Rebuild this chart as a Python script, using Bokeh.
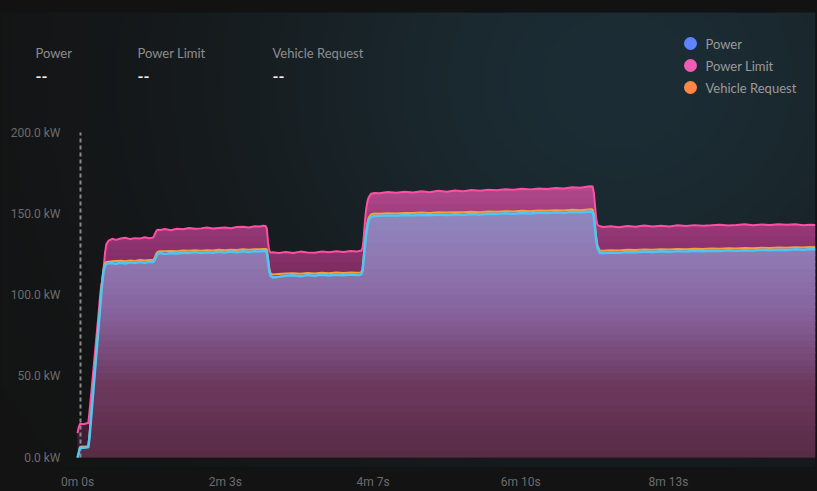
import numpy as np
from bokeh.plotting import figure
from bokeh.models import Range1d, FixedTicker, Label
from bokeh.embed import file_html
from bokeh.resources import INLINE

# ---------------- data (seconds, kW) ----------------
t = [0, 1, 2, 3, 5, 7, 9,
     10, 12, 14, 16, 18, 19, 20, 21, 22, 23, 24, 26,
     29, 32, 36, 40, 44, 48, 52, 56, 60, 63,
     64, 65, 66, 67, 69,
     73, 78, 83, 88, 93, 98, 103, 108, 113, 118, 123, 128, 133, 138, 143, 148, 152, 155,
     157, 158, 159, 160, 161, 163,
     168, 174, 180, 186, 192, 198, 204, 210, 216, 222, 228, 233, 236,
     237, 238, 239, 240, 241, 242, 243, 245, 248,
     252, 259, 266, 273, 280, 287, 294, 301, 308, 315, 322, 329, 336, 343, 350, 357, 364,
     371, 378, 385, 392, 399, 406, 413, 420, 426, 429,
     430, 431, 432, 433, 434, 436, 439,
     445, 452, 459, 466, 473, 480, 487, 494, 501, 508, 515, 522, 529, 536, 543, 550, 557,
     564, 571, 578, 585, 592, 599, 606, 612, 616]

power_limit = [15.0, 18.5, 20.6, 20.8, 20.5, 20.9, 21.2,
               28, 44, 60, 76, 92, 101, 107, 109, 118, 126, 131, 133.5,
               134.6, 133.9, 134.8, 135.2, 134.4, 135.0, 134.7, 135.5, 134.9, 135.3,
               136.5, 138.2, 139.6, 140.2, 140.0,
               140.6, 139.9, 140.8, 140.4, 141.2, 140.7, 141.0, 141.5, 140.9, 141.3, 141.6, 141.1,
               141.8, 142.0, 141.6, 142.3, 142.1, 142.6,
               142.5, 141.0, 133.0, 127.5, 126.2, 126.3,
               125.8, 126.4, 125.9, 126.7, 126.2, 126.0, 126.8, 126.3, 126.9, 126.5, 127.1, 126.7, 127.2,
               127.3, 129.0, 136.0, 146.0, 153.0, 157.5, 160.0, 162.3, 162.8,
               162.6, 163.4, 162.9, 163.6, 163.1, 163.8, 163.3, 164.1, 163.6, 164.3, 163.9, 164.6,
               164.2, 164.8, 164.4, 165.1, 164.7, 165.4, 165.0, 165.6, 165.3, 165.9, 165.5, 166.3,
               166.0, 166.7, 166.9,
               166.8, 163.0, 155.0, 147.0, 143.2, 142.3, 141.8,
               142.3, 141.7, 142.5, 142.0, 142.8, 142.2, 142.6, 142.1, 142.9, 142.4, 143.0, 142.6,
               142.9, 143.3, 142.8, 143.1, 143.5, 142.9, 143.4, 143.1, 143.6, 143.2, 143.5, 142.9,
               143.3, 143.1]

vehicle_request = [0, 2.8, 6.4, 6.7, 6.6, 6.7, 6.8,
                   14, 32, 50, 68, 86, 95, 104, 112, 117, 119.5, 120.3, 120.5,
                   120.7, 120.9, 121.1, 120.8, 121.3, 121.0, 121.5, 121.2, 121.6, 121.5,
                   122.2, 124.0, 125.7, 126.7, 127.0,
                   126.9, 127.1, 127.0, 127.4, 127.2, 127.5, 127.3, 127.6, 127.4, 127.8, 127.6, 127.9,
                   127.7, 128.1, 127.9, 128.2, 128.1, 128.3,
                   128.3, 128.0, 123.0, 117.0, 113.5, 112.6,
                   112.9, 113.2, 113.4, 113.1, 113.6, 113.3, 113.7, 113.4, 113.8, 113.6, 113.9, 113.7, 113.9,
                   114.0, 116.5, 124.5, 132.5, 139.0, 144.0, 147.5, 149.5, 150.1,
                   150.0, 150.3, 150.2, 150.5, 150.4, 150.7, 150.5, 150.9, 150.7, 151.0, 150.9, 151.2,
                   151.0, 151.4, 151.2, 151.6, 151.4, 151.8, 151.6, 152.0, 151.8, 152.2, 152.0, 152.4,
                   152.2, 152.6, 152.7,
                   152.6, 149.5, 142.5, 135.5, 130.5, 127.3, 127.2,
                   127.6, 127.4, 127.8, 127.7, 128.0, 127.9, 128.2, 128.0, 128.3, 128.2, 128.5, 128.3,
                   128.6, 128.5, 128.8, 128.6, 128.9, 128.8, 129.1, 128.9, 129.2, 129.1, 129.4, 129.2,
                   129.5, 129.4]

power = [0, 2.5, 5.9, 6.2, 6.0, 6.1, 6.3,
         12, 30, 48, 66, 84, 93, 102, 110, 115.5, 118, 119, 119.5,
         119.6, 119.2, 119.9, 119.4, 120.1, 119.7, 120.3, 119.8, 120.4, 120.2,
         121.0, 122.5, 124.2, 125.3, 125.8,
         125.3, 125.9, 125.5, 126.2, 125.8, 126.4, 125.9, 126.3, 126.0, 126.6, 126.2, 126.7,
         126.3, 126.9, 126.5, 127.0, 126.8, 127.1,
         127.0, 126.5, 121.0, 115.0, 112.0, 110.8,
         111.3, 111.8, 112.1, 111.6, 112.3, 111.9, 112.4, 112.0, 112.5, 112.2, 112.6, 112.3, 112.5,
         112.8, 115.0, 123.0, 131.0, 137.5, 142.5, 146.0, 148.0, 148.6,
         148.7, 149.0, 148.8, 149.2, 149.0, 149.4, 149.1, 149.5, 149.3, 149.7, 149.4, 149.9,
         149.6, 150.0, 149.8, 150.3, 150.0, 150.5, 150.2, 150.7, 150.4, 150.9, 150.6, 151.1,
         150.9, 151.3, 151.4,
         151.2, 148.0, 141.0, 134.0, 129.0, 125.9, 125.8,
         126.2, 126.0, 126.5, 126.3, 126.7, 126.4, 126.9, 126.6, 127.0, 126.8, 127.2, 126.9,
         127.3, 127.1, 127.5, 127.2, 127.6, 127.4, 127.8, 127.5, 127.9, 127.7, 128.1, 127.9,
         128.3, 128.2]

marker_time = [2.5]          # hover marker (dashed line)
marker_span = [0, 200]

x_ticks = [0, 123.333, 246.667, 370.0, 493.333]
x_tick_labels = ["0m 0s", "2m 3s", "4m 7s", "6m 10s", "8m 13s"]
y_ticks = [0, 50, 100, 150, 200]
y_tick_labels = ["0.0 kW", "50.0 kW", "100.0 kW", "150.0 kW", "200.0 kW"]

series_names = ["Power", "Power Limit", "Vehicle Request"]
legend_colors = ["#5d83ff", "#ef5cb4", "#ff8746"]

# ---------------- layout (page pixels) ----------------
W, H = 817, 491
ORIGIN_X, ORIGIN_Y = 77, 457      # page pixel of (0 s, 0 kW)
RIGHT_EDGE = 815
FRAME_BOTTOM = 467
PX_PER_S = 147.75 / 123.333
PX_PER_KW = 1.625
X_START = -ORIGIN_X / PX_PER_S
X_END = (RIGHT_EDGE - ORIGIN_X) / PX_PER_S
Y_START = -(FRAME_BOTTOM - ORIGIN_Y) / PX_PER_KW
Y_TOP = ORIGIN_Y / PX_PER_KW

tt = np.array(t, dtype=float)
L = np.array(power_limit, dtype=float)
V = np.array(vehicle_request, dtype=float)
P = np.array(power, dtype=float)

p = figure(width=W, height=H, x_range=Range1d(X_START, X_END), y_range=Range1d(Y_START, Y_TOP),
           output_backend="svg", toolbar_location=None, title=None,
           min_border_left=0, min_border_right=W - RIGHT_EDGE, min_border_top=0,
           min_border_bottom=H - FRAME_BOTTOM,
           background_fill_color="#131313", border_fill_color="#131313",
           outline_line_color=None)

try:
    from bokeh.models import GlobalInlineStyleSheet
    p.stylesheets = [GlobalInlineStyleSheet(css="html, body { background-color: #131313; }")]
except Exception:
    pass

def sx(px):
    return (px - ORIGIN_X) / PX_PER_S

def sy(py):
    return (ORIGIN_Y - py) / PX_PER_KW

# ---------------- background glow ----------------
GW, GH = 272, 156
gx = (np.arange(GW) + 0.5) * RIGHT_EDGE / GW
gy = FRAME_BOTTOM - (np.arange(GH) + 0.5) * FRAME_BOTTOM / GH
GX, GY = np.meshgrid(gx, gy)
d2 = ((GX - 620) / 540) ** 2 + ((GY - 80) / 480) ** 2
f = np.exp(-1.9 * d2)
base = np.array([0x13, 0x13, 0x13], dtype=float)
glow = np.array([0x1c, 0x2d, 0x35], dtype=float)
rgb = base[None, None, :] + (glow - base)[None, None, :] * f[..., None]
rgb[GY < 13] = [0x12, 0x12, 0x12]
img = np.empty((GH, GW), dtype=np.uint32)
view = img.view(dtype=np.uint8).reshape((GH, GW, 4))
view[..., 0] = rgb[..., 0].astype(np.uint8)
view[..., 1] = rgb[..., 1].astype(np.uint8)
view[..., 2] = rgb[..., 2].astype(np.uint8)
view[..., 3] = 255
p.image_rgba(image=[img], x=X_START, y=Y_START, dw=X_END - X_START, dh=Y_TOP - Y_START)

# ---------------- gradient area fills ----------------
def hex2rgb(h):
    h = h.lstrip("#")
    return np.array([int(h[i:i + 2], 16) for i in (0, 2, 4)], dtype=float)

def grad(stops, v):
    vals = [s[0] for s in stops]
    cols = [hex2rgb(s[1]) for s in stops]
    c = cols[-1]
    if v <= vals[0]:
        c = cols[0]
    else:
        for i in range(len(vals) - 1):
            if vals[i] <= v <= vals[i + 1]:
                k = (v - vals[i]) / (vals[i + 1] - vals[i])
                c = cols[i] + (cols[i + 1] - cols[i]) * k
                break
    return "#%02x%02x%02x" % tuple(int(round(x)) for x in c)

limit_stops = [(0, "#3c1a32"), (100, "#6f2755"), (125, "#87306a"), (145, "#993a78"), (168, "#b44a8f")]
power_stops = [(0, "#582b45"), (45, "#6c395e"), (90, "#87639d"), (120, "#8f77b0"), (152, "#8e88c0")]

STEP = 4.0
for a in np.arange(0, 172, STEP):
    b = a + STEP
    if L.max() > a:
        p.varea(x=tt, y1=np.minimum(L, a), y2=np.minimum(L, b + 0.8),
                fill_color=grad(limit_stops, a + STEP / 2), fill_alpha=1.0)
for a in np.arange(0, 172, STEP):
    b = a + STEP
    if P.max() > a:
        p.varea(x=tt, y1=np.minimum(P, a), y2=np.minimum(P, b + 0.8),
                fill_color=grad(power_stops, a + STEP / 2), fill_alpha=1.0)

# ---------------- hover marker ----------------
p.line(x=[marker_time[0], marker_time[0]], y=marker_span, line_color="#8a8a8a",
       line_width=2, line_dash="4 3")

# ---------------- lines ----------------
p.line(tt, L, line_color="#ff4fa3", line_width=2)
p.line(tt, V, line_color="#f5a038", line_width=2)
p.line(tt, P, line_color="#4cc6f5", line_width=2.5)

# ---------------- axes ----------------
p.xaxis.ticker = FixedTicker(ticks=x_ticks)
p.xaxis.major_label_overrides = {k: v for k, v in zip(x_ticks, x_tick_labels)}
p.yaxis.ticker = FixedTicker(ticks=y_ticks)
p.yaxis.major_label_overrides = {k: v for k, v in zip(y_ticks, y_tick_labels)}
p.yaxis.fixed_location = 0
for ax in (p.xaxis, p.yaxis):
    ax.axis_line_color = None
    ax.major_tick_line_color = None
    ax.minor_tick_line_color = None
    ax.major_tick_out = 0
    ax.major_tick_in = 0
    ax.major_label_text_font = "Roboto"
    ax.major_label_text_font_size = "12px"
    ax.major_label_text_color = "#6c6c6c"
p.xaxis.major_label_standoff = 7
p.yaxis.major_label_standoff = 17

p.xgrid.ticker = FixedTicker(ticks=x_ticks)
p.xgrid.grid_line_color = "#ffffff"
p.xgrid.grid_line_alpha = 0.035
p.ygrid.grid_line_color = None

# ---------------- header values ----------------
header_x = [35, 137, 272]
for name, hx in zip(series_names, header_x):
    p.add_layout(Label(x=sx(hx), y=sy(52), text=name, text_font="Lato",
                       text_font_size="13px", text_color="#8e8e8e", text_baseline="middle"))
    p.add_layout(Label(x=sx(hx), y=sy(76), text="--", text_font="Lato",
                       text_font_size="16px", text_font_style="bold",
                       text_color="#f2f2f2", text_baseline="middle"))

# ---------------- legend ----------------
legend_y = [43, 65, 87]
p.scatter(x=[sx(690)] * 3, y=[sy(v) for v in legend_y], size=13,
          fill_color=legend_colors, line_color=None)
for name, ly in zip(series_names, legend_y):
    p.add_layout(Label(x=sx(705), y=sy(ly), text=name, text_font="Lato",
                       text_font_size="13px", text_color="#9a9a9a", text_baseline="middle"))

open("out.html", "w").write(file_html(p, INLINE))
